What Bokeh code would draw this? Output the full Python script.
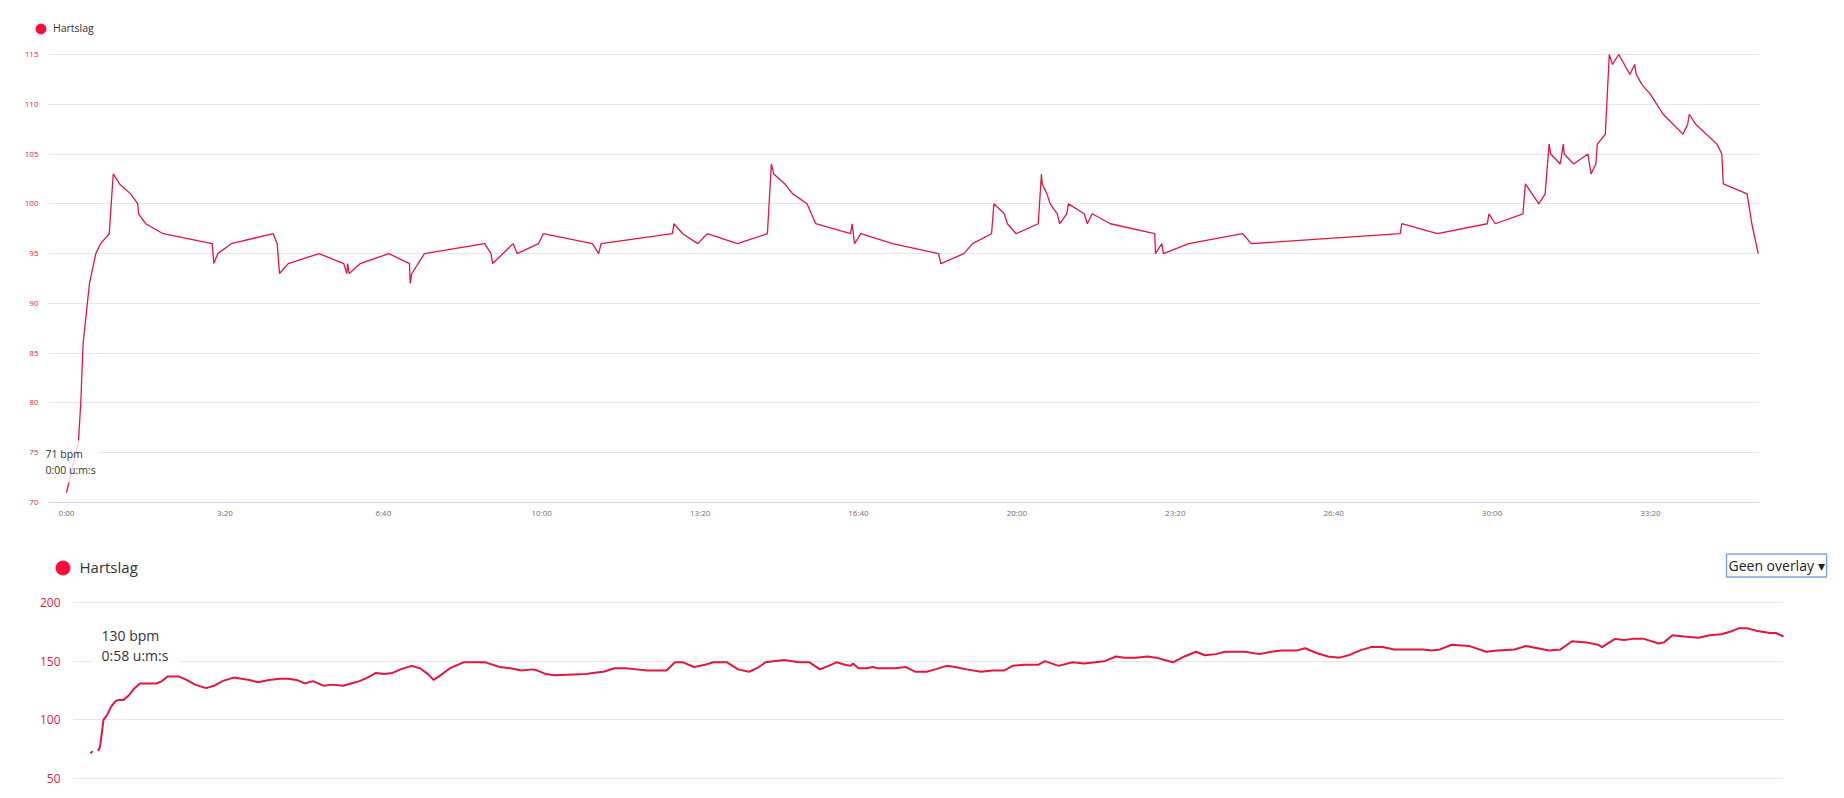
from bokeh.plotting import figure
from bokeh.models import Range1d, FixedTicker, Label, Legend, LegendItem, BoxAnnotation
from bokeh.layouts import column
from bokeh.embed import file_html
from bokeh.resources import INLINE

# ---------------- data: top chart (heart rate, seconds) ----------------
hr1_time_s = [0, 15, 18, 21, 25, 29, 37, 43, 54, 59, 67, 81, 90, 91, 100, 122, 184, 186, 191, 208,
              261, 266, 269, 280, 319, 350, 354, 355, 357, 371, 407, 433, 434, 436, 452, 528, 536,
              538, 564, 569, 596, 602, 664, 672, 675, 765, 767, 778, 797, 809, 847, 885, 890, 893,
              907, 917, 935, 946, 990, 992, 995, 1003, 1043, 1101, 1104, 1133, 1144, 1168, 1171,
              1184, 1188, 1199, 1227, 1231, 1232, 1238, 1242, 1251, 1254, 1263, 1265, 1285, 1289,
              1295, 1318, 1374, 1375, 1383, 1385, 1417, 1485, 1496, 1684, 1686, 1731, 1794, 1796,
              1804, 1839, 1842, 1859, 1867, 1872, 1874, 1886, 1890, 1891, 1903, 1921, 1925, 1931,
              1933, 1943, 1948, 1952, 1960, 1967, 1974, 1980, 1982, 1989, 2000, 2008, 2016, 2041,
              2047, 2049, 2057, 2084, 2090, 2092, 2122, 2128, 2136]
hr1_bpm = [71, 76, 80, 86, 89, 92, 95, 96, 97, 103, 102, 101, 100, 99, 98, 97, 96, 94, 95, 96,
           97, 96, 93, 94, 95, 94, 93, 94, 93, 94, 95, 94, 92, 93, 95, 96, 95,
           94, 96, 95, 96, 97, 96, 95, 96, 97, 98, 97, 96, 97, 96, 97, 104, 103,
           102, 101, 100, 98, 97, 98, 96, 97, 96, 95, 94, 95, 96, 97, 100,
           99, 98, 97, 98, 103, 102, 101, 100, 99, 98, 99, 100, 99, 98,
           99, 98, 97, 95, 96, 95, 96, 97, 96, 97, 98, 97, 98, 99,
           98, 99, 102, 100, 101, 106, 105, 104, 106, 105, 104, 105, 103, 104,
           106, 107, 115, 114, 115, 114, 113, 114, 113, 112, 111, 110, 109, 107,
           108, 109, 108, 106, 105, 102, 101, 98, 95]
top_y_ticks = [70, 75, 80, 85, 90, 95, 100, 105, 110, 115]
top_x_ticks = [0, 200, 400, 600, 800, 1000, 1200, 1400, 1600, 1800, 2000]
top_x_labels = ["0:00", "3:20", "6:40", "10:00", "13:20", "16:40", "20:00", "23:20",
                "26:40", "30:00", "33:20"]

# ---------------- data: bottom chart (heart rate, seconds) ----------------
nan = float("nan")
hr2_time_s = [0, 4, 8, 15, 19, 26, 33, 41, 50, 58, 66, 77, 88, 99, 132, 143, 154, 165, 176, 192,
              209, 231, 247, 264, 286, 302, 318, 335, 357, 379, 395, 412, 428, 445, 467, 483, 505,
              521, 538, 554, 571, 587, 604, 620, 642, 659, 675, 686, 697, 719, 746, 790, 818, 840,
              862, 884, 894, 911, 927, 993, 1004, 1026, 1048, 1070, 1092, 1114, 1136, 1152, 1169,
              1185, 1207, 1229, 1246, 1273, 1295, 1317, 1333, 1350, 1366, 1388, 1416, 1438, 1459,
              1476, 1492, 1509, 1520, 1525, 1536, 1553, 1564, 1575, 1608, 1631, 1649, 1672, 1689,
              1712, 1729, 1752, 1781, 1804, 1827, 1844, 1867, 1896, 1909, 1936, 1964, 1987, 2010,
              2028, 2051, 2068, 2091, 2114, 2131, 2148, 2165, 2188, 2211, 2229, 2251, 2269, 2309,
              2338, 2361, 2383, 2412, 2429, 2452, 2475, 2498, 2516, 2538, 2561, 2584, 2607, 2665,
              2682, 2699, 2722, 2757, 2791, 2814, 2848, 2871, 2894, 2917, 2940, 2963, 2992, 3015,
              3023, 3049, 3067, 3084, 3107, 3136, 3147, 3164, 3187, 3216, 3239, 3262, 3279, 3296,
              3313, 3331, 3359, 3371, 3386]
hr2_bpm = [71.4, 73.4, nan, 73.4, 77, 100, 104, 111, 116, 117, 117, 121, 127, 131, 131, 133, 137, 137, 137, 134,
           130, 127, 129, 133, 136, 135, 134, 132, 134, 135, 135, 134, 131, 133, 129, 130, 129,
           131, 133, 136, 140, 139, 140, 143, 146, 144, 139, 134, 137, 144, 149, 149, 145, 144,
           142, 143, 142, 139, 138, 139, 140, 141, 144, 144, 143, 142, 142, 142, 149,
           149, 145, 147, 149, 149, 143, 141, 144, 149, 150, 151, 149, 149, 143,
           146, 149, 147, 146, 148, 144, 144, 145, 144, 144, 145, 141, 141, 143,
           146, 145, 143, 141, 142, 142, 146, 147, 147, 150, 146, 149, 148, 149,
           150, 154, 153, 153, 154, 153, 151, 149, 154, 158, 155, 156, 158, 158,
           156, 158, 159, 159, 161, 157, 154, 153, 155, 159, 162, 162, 160, 160,
           159, 160, 164, 163, 158, 159, 160, 163, 161, 159, 160, 167, 166, 164,
           162, 169, 168, 169, 169, 165, 166, 172, 171, 170, 172, 173, 175, 178,
           178, 176, 174, 174, 171]
bottom_y_ticks = [50, 100, 150, 200]

LINE = "#e3163f"
DOT = "#ff0a3c"
YLAB = "#e8174a"
GRID = "#e6e6e6"
FONT = "Open Sans"

W = 1840
BORDER_L = 34   # frame left (page px)
BORDER_R = 7    # canvas right margin


def style_axes(p, yticks, ysize, ystandoff):
    p.outline_line_color = None
    p.background_fill_color = "white"
    p.border_fill_color = "white"
    p.xgrid.grid_line_color = None
    p.ygrid.ticker = FixedTicker(ticks=yticks)
    p.ygrid.grid_line_color = GRID
    p.yaxis.ticker = FixedTicker(ticks=yticks)
    p.yaxis.axis_line_color = None
    p.yaxis.major_tick_line_color = None
    p.yaxis.minor_tick_line_color = None
    p.yaxis.major_tick_out = 0
    p.yaxis.major_tick_in = 0
    p.yaxis.major_label_text_font_size = ysize
    p.yaxis.major_label_text_color = YLAB
    p.yaxis.major_label_text_font = FONT
    p.yaxis.major_label_standoff = ystandoff


def mask(p, left, right=None):
    kw = dict(left=left, left_units="screen", fill_color="white", fill_alpha=1,
              line_color=None, level="underlay")
    if right is not None:
        kw.update(right=right, right_units="screen")
    p.add_layout(BoxAnnotation(**kw))


# ---------------- top figure ----------------
p1 = figure(width=W, height=520, output_backend="svg", toolbar_location=None,
            x_range=Range1d(-40.4, 2231.1), y_range=Range1d(70, 119.42),
            min_border_left=BORDER_L, min_border_right=BORDER_R, min_border_top=10,
            min_border_bottom=18)
style_axes(p1, top_y_ticks, "8px", -4)
p1.xaxis.ticker = FixedTicker(ticks=top_x_ticks)
p1.xaxis.major_label_overrides = {t: l for t, l in zip(top_x_ticks, top_x_labels)}
p1.xaxis.bounds = (-22.7, 2137.6)
p1.xaxis.axis_line_color = "#ccd6eb"
p1.xaxis.major_tick_line_color = None
p1.xaxis.minor_tick_line_color = None
p1.xaxis.major_tick_out = 0
p1.xaxis.major_tick_in = 0
p1.xaxis.major_label_text_font_size = "8px"
p1.xaxis.major_label_text_color = "#707070"
p1.xaxis.major_label_text_font = FONT
p1.xaxis.major_label_standoff = 4
mask(p1, 0, 14)
mask(p1, 1725)

p1.line(hr1_time_s, hr1_bpm, line_color=LINE, line_width=1.3)
dot1 = p1.scatter([hr1_time_s[0]], [hr1_bpm[0]], size=10, color=DOT, visible=False)
leg1 = Legend(items=[LegendItem(label="Hartslag", renderers=[dot1])], location=(-6, 461.5),
              glyph_width=25, glyph_height=25, label_standoff=-3, padding=0, margin=0, spacing=0,
              border_line_color=None, background_fill_alpha=0, label_text_font_size="10.5px",
              label_text_color="#333333", label_text_font=FONT, label_height=25)
p1.add_layout(leg1)
p1.add_layout(BoxAnnotation(left=8, right=66, bottom=20, top=62, left_units="screen",
                            right_units="screen", bottom_units="screen", top_units="screen",
                            fill_color="white", fill_alpha=0.8, line_color=None))
for yy, txt in [(49, "71 bpm"), (33, "0:00 u:m:s")]:
    p1.add_layout(Label(x=11, y=yy, x_units="screen", y_units="screen", text=txt,
                        text_font_size="10.5px", text_font=FONT, text_color="#333333",
                        text_baseline="middle"))

# ---------------- bottom figure ----------------
p2 = figure(width=W, height=274, output_backend="svg", toolbar_location=None,
            x_range=Range1d(-112, 3486), y_range=Range1d(36.36, 246.02), x_axis_location=None,
            min_border_left=BORDER_L, min_border_right=BORDER_R, min_border_top=28,
            min_border_bottom=0)
style_axes(p2, bottom_y_ticks, "12px", -26)
mask(p2, 0, 39)
mask(p2, 1749)

p2.line(hr2_time_s, hr2_bpm, line_color=LINE, line_width=2)
dot2 = p2.scatter([hr2_time_s[0]], [hr2_bpm[0]], size=14, color=DOT, visible=False)
leg2 = Legend(items=[LegendItem(label="Hartslag", renderers=[dot2])], location=(10.5, 209.5),
              glyph_width=35, glyph_height=35, label_standoff=-5, padding=0, margin=0, spacing=0,
              border_line_color=None, background_fill_alpha=0, label_text_font_size="15px",
              label_text_color="#333333", label_text_font=FONT, label_height=35)
p2.add_layout(leg2)
p2.add_layout(BoxAnnotation(left=58, right=146, bottom=126, top=174, left_units="screen",
                            right_units="screen", bottom_units="screen", top_units="screen",
                            fill_color="white", fill_alpha=0.85, line_color=None))
for yy, txt in [(159, "130 bpm"), (139, "0:58 u:m:s")]:
    p2.add_layout(Label(x=67, y=yy, x_units="screen", y_units="screen", text=txt,
                        text_font_size="14px", text_font=FONT, text_color="#333333",
                        text_baseline="middle"))
p2.add_layout(Label(x=1692, y=229, x_units="screen", y_units="screen", text="Geen overlay ▾",
                    text_font_size="14px", text_font=FONT, text_color="#222222",
                    text_baseline="middle", background_fill_color="white",
                    border_line_color="#7ea7dc", border_line_width=1.5, padding=2))

layout = column(p1, p2, spacing=0)
open("out.html", "w").write(file_html(layout, INLINE))
